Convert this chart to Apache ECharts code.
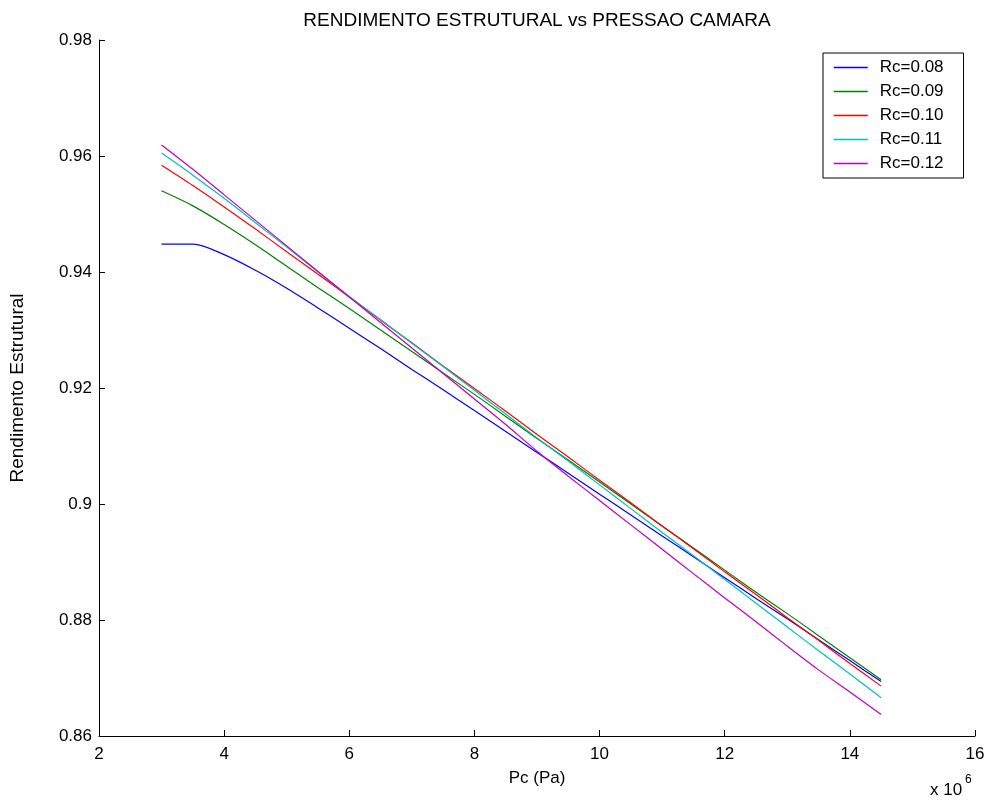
<!DOCTYPE html>
<html>
<head>
<meta charset="utf-8">
<script src="https://cdn.jsdelivr.net/npm/echarts@6/dist/echarts.min.js"></script>
<style>
html,body{margin:0;padding:0;background:#fff;}
#chart{width:988px;height:800px;}
</style>
</head>
<body>
<div id="chart"></div>
<script>
// Chamber pressure (x 10^6 Pa)
const pcValues = [3.0,3.5,4.0,4.5,5.0,5.5,6.0,6.5,7.0,7.5,8.0,8.5,9.0,9.5,10.0,10.5,11.0,11.5,12.0,12.5,13.0,13.5,14.0,14.5];

const seriesNames = ['Rc=0.08','Rc=0.09','Rc=0.10','Rc=0.11','Rc=0.12'];

const rc008 = [0.9448,0.9448,0.9430,0.9403,0.9372,0.9338,0.9303,0.9268,0.9232,0.9197,0.9161,0.9125,0.9089,0.9053,0.9017,0.8981,0.8945,0.8909,0.8873,0.8837,0.8802,0.8766,0.8730,0.8694];
const rc009 = [0.9540,0.9514,0.9482,0.9447,0.9410,0.9373,0.9337,0.9300,0.9263,0.9226,0.9189,0.9151,0.9113,0.9076,0.9038,0.9000,0.8962,0.8924,0.8886,0.8848,0.8811,0.8773,0.8735,0.8697];
const rc010 = [0.9584,0.9549,0.9512,0.9474,0.9435,0.9396,0.9357,0.9317,0.9278,0.9238,0.9199,0.9160,0.9120,0.9081,0.9041,0.9002,0.8962,0.8923,0.8883,0.8844,0.8804,0.8765,0.8725,0.8686];
const rc011 = [0.9605,0.9567,0.9527,0.9485,0.9443,0.9400,0.9358,0.9318,0.9277,0.9237,0.9196,0.9155,0.9114,0.9074,0.9033,0.8992,0.8951,0.8911,0.8870,0.8829,0.8788,0.8747,0.8707,0.8666];
const rc012 = [0.9619,0.9577,0.9533,0.9489,0.9445,0.9401,0.9357,0.9313,0.9269,0.9225,0.9181,0.9137,0.9091,0.9048,0.9006,0.8964,0.8922,0.8880,0.8838,0.8797,0.8755,0.8714,0.8676,0.8637];

const allSeries = [rc008, rc009, rc010, rc011, rc012];
const colors = ['#0000FF','#008000','#FF0000','#00BFBF','#BF00BF'];

const FONT = '"Liberation Sans", Arial, sans-serif';

const chart = echarts.init(document.getElementById('chart'), null, {renderer:'canvas'});

const series = allSeries.map((vals, i) => ({
  name: seriesNames[i],
  type: 'line',
  data: pcValues.map((x, j) => [x, vals[j]]),
  showSymbol: false,
  symbol: 'none',
  smooth: 0.3,
  lineStyle: {color: colors[i], width: 1.2},
  itemStyle: {color: colors[i]},
  emphasis: {disabled: true},
  animation: false
}));

chart.setOption({
  animation: false,
  backgroundColor: '#fff',
  grid: {left: 99, right: 13, top: 40, bottom: 64, containLabel: false},
  xAxis: {
    type: 'value', min: 2, max: 16, interval: 2,
    name: 'Pc (Pa)', nameLocation: 'middle', nameGap: 34,
    nameTextStyle: {fontFamily: FONT, fontSize: 17, color: '#000'},
    axisLine: {show: true, lineStyle: {color: '#000', width: 1}},
    axisTick: {show: true, inside: true, length: 6, lineStyle: {color: '#000'}},
    axisLabel: {fontFamily: FONT, fontSize: 17, color: '#000', margin: 10},
    splitLine: {show: false}
  },
  yAxis: {
    type: 'value', min: 0.86, max: 0.98, interval: 0.02,
    name: 'Rendimento Estrutural', nameLocation: 'middle', nameGap: 72,
    nameTextStyle: {fontFamily: FONT, fontSize: 19, color: '#000'},
    axisLine: {show: true, lineStyle: {color: '#000', width: 1}},
    axisTick: {show: true, inside: true, length: 6, lineStyle: {color: '#000'}},
    axisLabel: {fontFamily: FONT, fontSize: 17, color: '#000', margin: 7,
      formatter: v => String(parseFloat(v.toFixed(2)))},
    splitLine: {show: false}
  },
  legend: {
    data: seriesNames,
    orient: 'vertical',
    left: 823, top: 53,
    backgroundColor: '#fff',
    borderColor: '#000', borderWidth: 1,
    padding: [5.5, 20, 5.5, 10],
    itemWidth: 34, itemHeight: 18, itemGap: 6,
    itemStyle: {opacity: 0},
    lineStyle: {width: 1.5},
    textStyle: {fontFamily: FONT, fontSize: 17, color: '#000', lineHeight: 18, padding: [0,0,0,7]},
    selectedMode: false
  },
  graphic: [
    {type: 'text', x: 537, y: 21, style: {text: 'RENDIMENTO ESTRUTURAL vs PRESSAO CAMARA', font: '19px ' + FONT, fill: '#000', textAlign: 'center', textVerticalAlign: 'middle'}},
    {type: 'text', x: 930, y: 790, style: {text: 'x 10', font: '17px ' + FONT, fill: '#000', textAlign: 'left', textVerticalAlign: 'middle'}},
    {type: 'text', x: 965, y: 780, style: {text: '6', font: '12px ' + FONT, fill: '#000', textAlign: 'left', textVerticalAlign: 'middle'}}
  ],
  series: series
});
</script>
</body>
</html>
